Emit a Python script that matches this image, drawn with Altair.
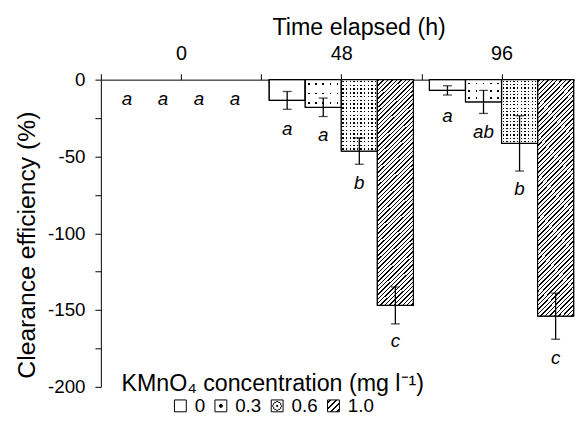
import json
import altair as alt
import pandas as pd

# ---------------- data ----------------
times = [0, 48, 96]
concs = ["0", "0.3", "0.6", "1.0"]

eff_0h = [0.0, 0.0, 0.0, 0.0]
eff_48h = [-13.5, -18.0, -46.5, -147.0]
eff_96h = [-7.0, -14.5, -41.5, -154.0]

err_0h = [0.0, 0.0, 0.0, 0.0]
err_48h = [5.8, 6.0, 8.6, 12.0]
err_96h = [3.0, 7.5, 18.0, 15.0]

let_0h = ["a", "a", "a", "a"]
let_48h = ["a", "a", "b", "c"]
let_96h = ["a", "ab", "b", "c"]

lety_0h = [-12.5, -12.5, -12.5, -12.5]
lety_48h = [-32.0, -36.0, -67.5, -170.0]
lety_96h = [-24.0, -34.0, -71.0, -181.0]

BAR_W = 10.8  # bar width in hours

rows = []
for t, effs, errs, lets, lys in zip(
    times,
    [eff_0h, eff_48h, eff_96h],
    [err_0h, err_48h, err_96h],
    [let_0h, let_48h, let_96h],
    [lety_0h, lety_48h, lety_96h],
):
    for i, c in enumerate(concs):
        centre = t + (i - 1.5) * BAR_W
        rows.append(dict(time=t, conc=c, eff=effs[i], err=errs[i],
                         lo=effs[i] - errs[i], hi=effs[i] + errs[i],
                         x0=centre - BAR_W / 2, x1=centre + BAR_W / 2, xc=centre,
                         letter=lets[i], ly=lys[i], zero=0.0))
df = pd.DataFrame(rows)

caps = []
for r in rows:
    if r["err"] > 0:
        caps.append(dict(xc=r["xc"], yy=r["lo"]))
        caps.append(dict(xc=r["xc"], yy=r["hi"]))
caps_df = pd.DataFrame(caps)

# ---------------- pattern fills (gradients) ----------------
CLEAR = "rgba(255,255,255,0)"


def stripes(n, frac, x2, y2, ink, paper):
    stops = []
    for k in range(n):
        a = k / n
        b = (k + (1 - frac) / 2) / n
        c = (k + (1 + frac) / 2) / n
        d = (k + 1) / n
        for off, col in [(a, paper), (b, paper), (b, ink), (c, ink), (c, paper), (d, paper)]:
            stops.append({"offset": round(off, 5), "color": col})
    return {"gradient": "linear", "x1": 0, "y1": 0, "x2": x2, "y2": y2, "stops": stops}


hatch_bar = stripes(60, 0.32, 0.177, 1.129, "black", "white")
rows06 = stripes(19, 0.38, 0, 1, CLEAR, "white")
cols06 = stripes(10, 0.38, 1, 0, CLEAR, "white")
rows03 = stripes(3, 0.2, 0, 1, CLEAR, "white")
cols03 = stripes(5, 0.22, 1, 0, CLEAR, "white")

leg03 = {"gradient": "radial", "x1": 0.5, "y1": 0.5, "r1": 0, "x2": 0.5, "y2": 0.5, "r2": 0.5,
         "stops": [{"offset": 0, "color": "black"}, {"offset": 0.3, "color": "black"},
                   {"offset": 0.3, "color": "white"}, {"offset": 1, "color": "white"}]}
leg06 = {"gradient": "radial", "x1": 0.5, "y1": 0.5, "r1": 0, "x2": 0.5, "y2": 0.5, "r2": 0.5,
         "stops": [{"offset": 0, "color": "black"}, {"offset": 0.25, "color": "black"},
                   {"offset": 0.25, "color": "white"}, {"offset": 0.62, "color": "white"},
                   {"offset": 0.62, "color": "black"}, {"offset": 0.78, "color": "black"},
                   {"offset": 0.78, "color": "white"}, {"offset": 1, "color": "white"}]}
leg10 = stripes(4, 0.32, 1, 1, "black", "white")

legend_range = ["white",
                alt.ExprRef(expr=json.dumps(leg03)),
                alt.ExprRef(expr=json.dumps(leg06)),
                alt.ExprRef(expr=json.dumps(leg10))]

# ---------------- scales & axes ----------------
FONT = "Liberation Sans"
xscale = alt.Scale(domain=[-24, 118], nice=False, zero=False)
yscale = alt.Scale(domain=[-200, 0], nice=False, zero=False)

xaxis = alt.Axis(orient="top", values=[-24, 0, 24, 48, 72, 96],
                 labelExpr="datum.value % 48 == 0 ? datum.label : ''",
                 title="Time elapsed (h)", titleFontSize=23.5, titleFontWeight="normal",
                 titleX=261, titlePadding=5, labelFontSize=20, labelPadding=10, tickSize=6,
                 grid=False, labelOverlap=False, labelFlush=False)
yaxis = alt.Axis(values=list(range(-200, 1, 25)),
                 labelExpr="datum.value % 50 == 0 ? '' + datum.value : ''",
                 title="Clearance efficiency (%)", titleFontSize=25, titleFontWeight="normal",
                 titleX=-62, titleY=167, titleBaseline="bottom", titleAngle=270,
                 labelFontSize=19, labelPadding=10, tickSize=6,
                 grid=False, labelOverlap=False, labelFlush=False)


def X(f):
    return alt.X(f, type="quantitative", scale=xscale, axis=xaxis)


def Y(f):
    return alt.Y(f, type="quantitative", scale=yscale, axis=yaxis)


base = alt.Chart(df)
bars = base.transform_filter("datum.eff < 0")

# base bars (carry the legend)
legend_bars = bars.mark_rect(stroke="black", strokeWidth=1).encode(
    x=X("x0"), x2="x1", y=Y("eff"), y2="zero",
    fill=alt.Fill("conc:N", scale=alt.Scale(domain=concs, range=legend_range),
                  legend=alt.Legend(title="KMnO₄ concentration (mg l⁻¹)", orient="none",
                                    legendX=21, legendY=296, direction="horizontal",
                                    titleAnchor="middle", titleFontSize=23.5, titleLimit=600,
                                    titleFontWeight="normal", titlePadding=1,
                                    labelFontSize=19, labelOffset=5, columnPadding=6,
                                    symbolType="square", symbolSize=144,
                                    symbolStrokeColor="black", symbolStrokeWidth=1,
                                    padding=0)),
)


def overlay(cond, grad):
    return bars.transform_filter(cond).mark_rect(strokeWidth=0).encode(
        x=X("x0"), x2="x1", y=Y("eff"), y2="zero", fill=alt.value(grad))


dots_black = bars.transform_filter("datum.conc == '0.3' || datum.conc == '0.6'").mark_rect(
    strokeWidth=0, fill="black").encode(x=X("x0"), x2="x1", y=Y("eff"), y2="zero")

layers = [
    legend_bars,
    dots_black,
    overlay("datum.conc == '0.6'", rows06),
    overlay("datum.conc == '0.6'", cols06),
    overlay("datum.conc == '0.3'", rows03),
    overlay("datum.conc == '0.3'", cols03),
    overlay("datum.conc == '1.0'", hatch_bar),
    bars.mark_rect(filled=False, stroke="black", strokeWidth=1.2).encode(
        x=X("x0"), x2="x1", y=Y("eff"), y2="zero"),
    bars.transform_filter("datum.err > 0").mark_rule(color="black", strokeWidth=1.3).encode(
        x=X("xc"), y=Y("lo"), y2="hi"),
    alt.Chart(caps_df).mark_tick(orient="horizontal", size=9, thickness=1.3, color="black").encode(
        x=X("xc"), y=Y("yy")),
    base.mark_text(font=FONT, fontSize=19, fontStyle="italic", color="black",
                   align="center", baseline="middle").encode(
        x=X("xc"), y=Y("ly"), text="letter"),
]

chart = alt.layer(*layers).properties(
    width=480, height=311,
    padding={"left": 7, "top": 5, "right": 0, "bottom": 0},
).configure(font=FONT).configure_view(stroke=None).configure_axis(
    domainColor="black", tickColor="black", labelColor="black", titleColor="black",
    labelFont=FONT, titleFont=FONT, domainWidth=1, tickWidth=1,
).configure_legend(labelFont=FONT, titleFont=FONT, labelColor="black", titleColor="black")

chart.save("out.html", embed_options={"renderer": "svg", "actions": False})
